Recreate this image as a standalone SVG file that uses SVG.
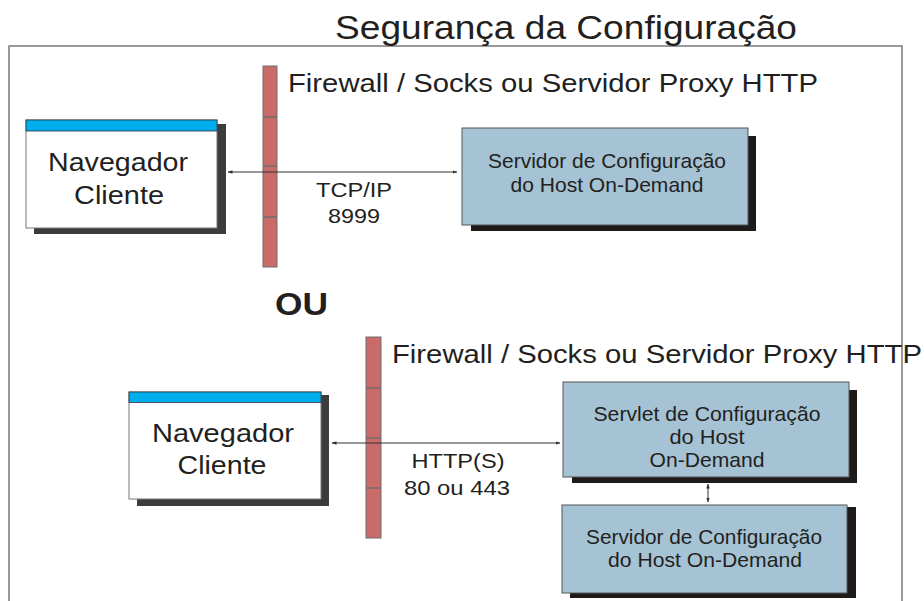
<svg xmlns="http://www.w3.org/2000/svg" width="924" height="601" viewBox="0 0 924 601">
<style>
text{font-family:"Liberation Sans",Arial,sans-serif;fill:#231f20}
.t{font-size:34px}
.fwl{font-size:25px}
.nav{font-size:25.5px;text-anchor:middle}
.lbl{font-size:21px;text-anchor:middle}
.srv{font-size:21px;text-anchor:middle}
.ou{font-size:32px;font-weight:bold}
.frame{fill:none;stroke:#7a7a7a;stroke-width:1.5}
.fw{fill:#c96b69;stroke:#6e6e6e;stroke-width:1}
.div{stroke:#6e6e6e;stroke-width:1.5}
.navbox{fill:#fff;stroke:#777;stroke-width:1}
.navhdr{fill:#00aeef;stroke:#333;stroke-width:0.8}
.navsh{fill:#3c3c3c}
.srvbox{fill:#a5c3d4;stroke:#555;stroke-width:1}
.srvsh{fill:#1e1a1a}
.conn{stroke:#333;stroke-width:1;fill:none;marker-start:url(#ah);marker-end:url(#ah)}
</style>
<defs>
<marker id="ah" viewBox="0 0 10 10" refX="9" refY="5" markerWidth="5" markerHeight="5" orient="auto-start-reverse" markerUnits="userSpaceOnUse">
<path d="M0,1.5 L10,5 L0,8.5 z" fill="#333"/>
</marker>
</defs>
<rect width="924" height="601" fill="#fff"/>
<path class="frame" d="M9,601 V46 H902 V601"/>
<text class="t" x="335" y="39" textLength="462" lengthAdjust="spacingAndGlyphs">Segurança da Configuração</text>
<g id="firewall1">
<rect class="fw" x="263" y="66" width="14" height="201"/>
<line class="div" x1="263" y1="117" x2="277" y2="117"/>
<line class="div" x1="263" y1="166" x2="277" y2="166"/>
<line class="div" x1="263" y1="217" x2="277" y2="217"/>
<text class="fwl" x="288" y="92" textLength="530" lengthAdjust="spacingAndGlyphs">Firewall / Socks ou Servidor Proxy HTTP</text>
</g>
<g id="navegador1">
<rect class="navsh" x="34" y="124" width="192" height="110"/>
<rect class="navbox" x="26" y="120" width="191" height="108"/>
<rect class="navhdr" x="26" y="120" width="191" height="11"/>
<text class="nav" x="118" y="171" textLength="140" lengthAdjust="spacingAndGlyphs">Navegador</text>
<text class="nav" x="119" y="204" textLength="90" lengthAdjust="spacingAndGlyphs">Cliente</text>
</g>
<g id="servidor1">
<rect class="srvsh" x="471" y="136" width="285" height="95"/>
<rect class="srvbox" x="462" y="128" width="286" height="97"/>
<text class="srv" x="607" y="168" textLength="238" lengthAdjust="spacingAndGlyphs">Servidor de Configuração</text>
<text class="srv" x="607" y="192" textLength="193" lengthAdjust="spacingAndGlyphs">do Host On-Demand</text>
</g>
<text class="ou" x="275" y="315" textLength="53" lengthAdjust="spacingAndGlyphs">OU</text>
<g id="firewall2">
<rect class="fw" x="366" y="337" width="15" height="201"/>
<line class="div" x1="366" y1="388" x2="381" y2="388"/>
<line class="div" x1="366" y1="438" x2="381" y2="438"/>
<line class="div" x1="366" y1="488" x2="381" y2="488"/>
<text class="fwl" x="392" y="363" textLength="530" lengthAdjust="spacingAndGlyphs">Firewall / Socks ou Servidor Proxy HTTP</text>
</g>
<g id="navegador2">
<rect class="navsh" x="137" y="395" width="192" height="111"/>
<rect class="navbox" x="129" y="392" width="192" height="107"/>
<rect class="navhdr" x="129" y="392" width="192" height="10.5"/>
<text class="nav" x="223" y="442" textLength="142" lengthAdjust="spacingAndGlyphs">Navegador</text>
<text class="nav" x="222" y="474" textLength="89" lengthAdjust="spacingAndGlyphs">Cliente</text>
</g>
<g id="servlet">
<rect class="srvsh" x="572" y="390" width="285" height="93"/>
<rect class="srvbox" x="563" y="382" width="286" height="95"/>
<text class="srv" x="707" y="421" textLength="227" lengthAdjust="spacingAndGlyphs">Servlet de Configuração</text>
<text class="srv" x="707" y="444" textLength="75" lengthAdjust="spacingAndGlyphs">do Host</text>
<text class="srv" x="707" y="467" textLength="115" lengthAdjust="spacingAndGlyphs">On-Demand</text>
</g>
<g id="servidor2">
<rect class="srvsh" x="570" y="507" width="286" height="91"/>
<rect class="srvbox" x="562" y="505" width="285" height="88"/>
<text class="srv" x="704" y="544" textLength="236" lengthAdjust="spacingAndGlyphs">Servidor de Configuração</text>
<text class="srv" x="705" y="567" textLength="194" lengthAdjust="spacingAndGlyphs">do Host On-Demand</text>
</g>
<g id="connectors">
<line class="conn" x1="228" y1="172" x2="457" y2="172"/>
<text class="lbl" x="354" y="197" textLength="76" lengthAdjust="spacingAndGlyphs">TCP/IP</text>
<text class="lbl" x="354" y="223" textLength="52" lengthAdjust="spacingAndGlyphs">8999</text>
<line class="conn" x1="332" y1="443" x2="560" y2="443"/>
<text class="lbl" x="458" y="468" textLength="93" lengthAdjust="spacingAndGlyphs">HTTP(S)</text>
<text class="lbl" x="457" y="495" textLength="106" lengthAdjust="spacingAndGlyphs">80 ou 443</text>
<line class="conn" x1="708" y1="484" x2="708" y2="502"/>
</g>
</svg>
